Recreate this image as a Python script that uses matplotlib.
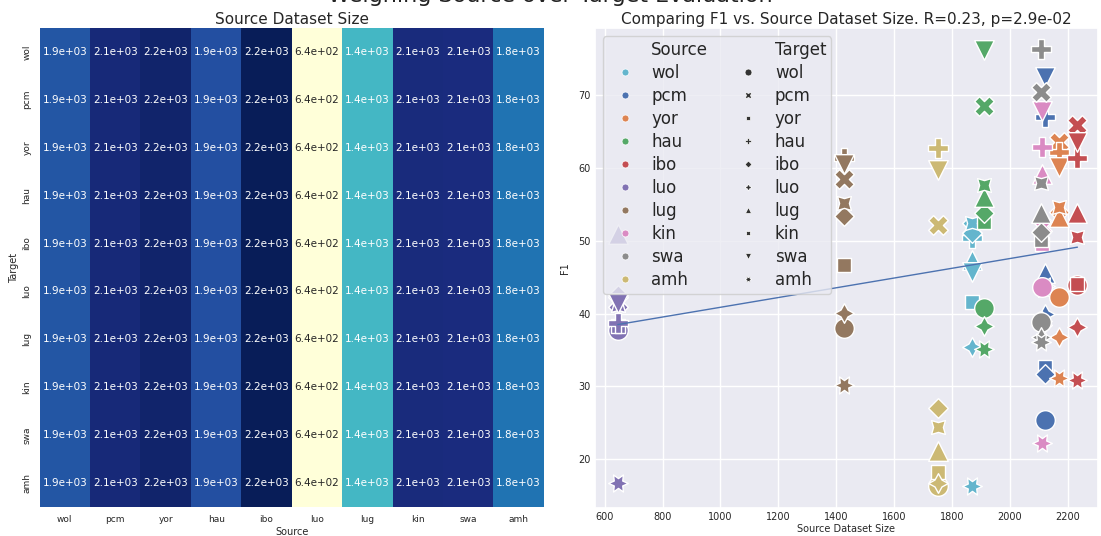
import numpy as np
import matplotlib
matplotlib.use('Agg')
import matplotlib.pyplot as plt
from matplotlib.lines import Line2D
import seaborn as sns

langs = ['wol', 'pcm', 'yor', 'hau', 'ibo', 'luo', 'lug', 'kin', 'swa', 'amh']

# source dataset sizes
source_size = [1868, 2122, 2168, 1910, 2233, 645, 1428, 2112, 2106, 1752]

# F1 per source (rows) over targets in langs order, nan = same language
nan = np.nan
f1_wol = [nan, 51.8, 41.6, 50.4, 51.0, 35.4, 47.3, 52.4, 45.7, 16.4]
f1_pcm = [25.4, nan, 32.6, 67.0, 31.7, 40.0, 45.5, 43.2, 72.5, 43.8]
f1_yor = [42.3, 63.6, nan, 62.2, 54.0, 36.8, 53.2, 54.6, 60.1, 31.1]
f1_hau = [40.7, 68.5, 52.6, nan, 53.8, 38.3, 56.0, 57.6, 76.2, 35.1]
f1_ibo = [43.9, 65.9, 44.0, 61.3, nan, 38.1, 53.8, 50.5, 63.5, 30.9]
f1_luo = [37.7, 41.6, 38.3, 38.7, 42.5, nan, 50.9, 41.2, 41.4, 16.8]
f1_lug = [38.0, 58.5, 46.6, 61.3, 53.4, 40.1, nan, 55.2, 60.5, 30.2]
f1_kin = [43.6, 52.0, 49.6, 62.9, 38.4, 39.0, 59.1, nan, 67.8, 22.2]
f1_swa = [38.8, 70.4, 50.1, 76.3, 51.2, 36.8, 53.8, 57.9, nan, 36.1]
f1_amh = [16.4, 52.1, 18.2, 62.7, 27.1, 16.7, 21.2, 24.5, 59.7, nan]
f1 = np.array([f1_wol, f1_pcm, f1_yor, f1_hau, f1_ibo,
               f1_luo, f1_lug, f1_kin, f1_swa, f1_amh])

colors = ['#64b5cd', '#4c72b0', '#dd8452', '#55a868', '#c44e52',
          '#8172b3', '#937860', '#da8bc3', '#8c8c8c', '#ccb974']
markers = ['o', 'X', (4, 0, 45), 'P', (4, 0, 0), (4, 1, 0), '^', (4, 1, 45), 'v', (6, 1, 30)]

sns.set_theme(style='darkgrid')

fig = plt.figure(figsize=(11.01, 5.36), dpi=100)
ax1 = fig.add_axes([0.036, 0.054, 0.458, 0.894])
ax2 = fig.add_axes([0.540, 0.052, 0.457, 0.896])

# heatmap: every target row shows the source size
size_mat = np.tile(np.array(source_size, dtype=float), (len(langs), 1))
sns.heatmap(size_mat, ax=ax1, cmap='YlGnBu', annot=True, cbar=False,
            xticklabels=langs, yticklabels=langs, annot_kws={'fontsize': 7.5})
ax1.set_title('Source Dataset Size', fontsize=11, pad=3)
ax1.set_xlabel('Source', fontsize=7, labelpad=2)
ax1.set_ylabel('Target', fontsize=7, labelpad=2)
ax1.tick_params(axis='both', labelsize=6.5, length=0, pad=6)
plt.setp(ax1.get_yticklabels(), rotation=90, va='center')

# scatter
for i, src in enumerate(langs):
    for j, tgt in enumerate(langs):
        if np.isnan(f1[i, j]):
            continue
        ax2.scatter(source_size[i], f1[i, j], s=200, color=colors[i],
                    marker=markers[j], edgecolor='white', linewidth=1, zorder=3)

xs = np.repeat(source_size, len(langs)).astype(float)
ys = f1.flatten()
ok = ~np.isnan(ys)
slope, icpt = np.polyfit(xs[ok], ys[ok], 1)
xl = np.array([min(source_size), max(source_size)])
ax2.plot(xl, slope * xl + icpt, color='#4c72b0', lw=1, zorder=4)

ax2.set_xlim(565, 2303)
ax2.set_ylim(13.3, 79.2)
ax2.set_xticks(range(600, 2201, 200))
ax2.set_yticks(range(20, 71, 10))
ax2.tick_params(axis='both', labelsize=7, length=0, pad=3)
ax2.set_xlabel('Source Dataset Size', fontsize=7, labelpad=1)
ax2.set_ylabel('F1', fontsize=7, labelpad=6)
ax2.set_title('Comparing F1 vs. Source Dataset Size. R=0.23, p=2.9e-02', fontsize=11, pad=3)

blank = Line2D([], [], linestyle='', marker='')
h_src = [blank] + [Line2D([], [], linestyle='', marker='o', markersize=5,
                          color=c, markeredgecolor='white', markeredgewidth=0.5) for c in colors]
h_tgt = [blank] + [Line2D([], [], linestyle='', marker=m, markersize=5,
                          color='#333333', markeredgecolor='white', markeredgewidth=0.5) for m in markers]
labels = ['Source'] + langs + ['Target'] + langs
ax2.legend(h_src + h_tgt, labels, ncol=2, loc='upper left', fontsize=12,
           labelspacing=0.3, columnspacing=1.4, handletextpad=0.6,
           borderaxespad=0.5, borderpad=0.3, framealpha=0.8)

fig.suptitle('Weighing Source over Target Evaluation', fontsize=16,
             y=1 - 2 / 536, va='baseline', color='#222222')

fig.savefig('out.png', dpi=100)
